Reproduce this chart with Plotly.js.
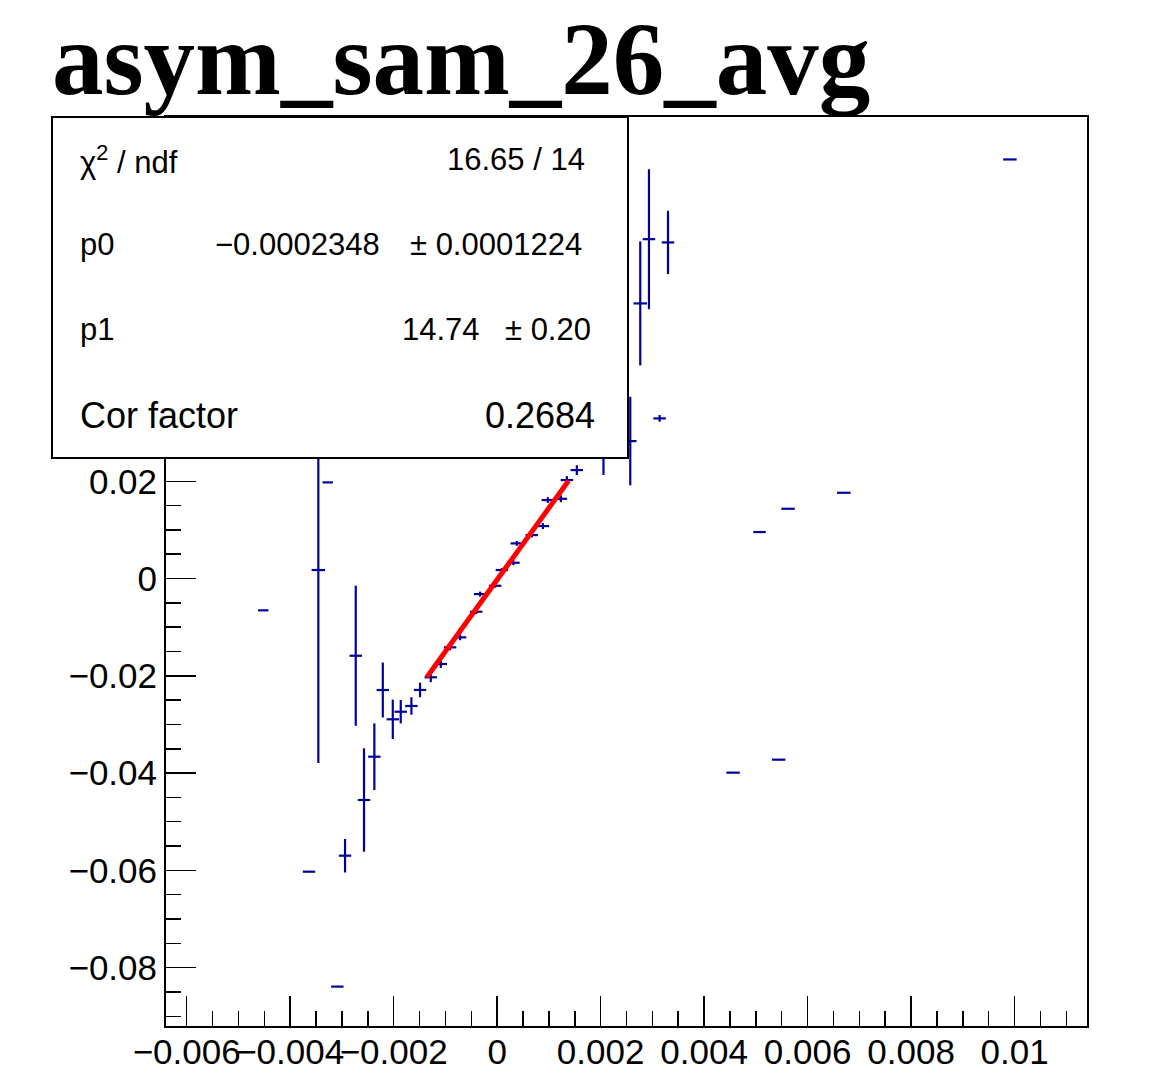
<!DOCTYPE html>
<html>
<head>
<meta charset="utf-8">
<script src="https://cdn.plot.ly/plotly-3.0.1.min.js"></script>
<style>html,body{margin:0;padding:0;background:#fff;}#chart{width:1175px;height:1083px;}</style>
</head>
<body>
<div id="chart"></div>
<script>
// ---- data ----
const xVals = [-0.00452, -0.003636, -0.003456, -0.003275, -0.003089, -0.00294, -0.002733, -0.002573,
  -0.002373, -0.00221, -0.002017, -0.001863, -0.001657, -0.00149, -0.001283, -0.001089,
  -0.000909, -0.000716, -0.000406, -0.000329, -0.0000387, 0.000091, 0.000315, 0.00038,
  0.00067, 0.000884, 0.00098, 0.001232, 0.001348, 0.00154, 0.002055, 0.002573,
  0.002766, 0.002934, 0.00314, 0.003302, 0.004559, 0.005071, 0.005441, 0.005623,
  0.0067, 0.00991];
const yVals = [-0.00654, -0.06027, 0.00175, 0.01977, -0.0839, -0.05698, -0.01587, -0.04553,
  -0.03663, -0.02292, -0.02894, -0.02738, -0.0262, -0.0229, -0.0203, -0.01757,
  -0.01414, -0.01209, -0.00682, -0.00319, -0.00148, 0.00175, 0.00325, 0.00723,
  0.00894, 0.01079, 0.01614, 0.0164, 0.02025, 0.0223, 0.0248, 0.02826,
  0.05657, 0.06978, 0.03293, 0.06911, -0.03991, 0.00956, -0.03724, 0.01435,
  0.01764, 0.08617];
const yErrs = [0, 0, 0.0397, 0, 0, 0.00345, 0.0144, 0.01063,
  0.00685, 0.00565, 0.00405, 0.0024, 0.0018, 0.0015, 0.001, 0.0008,
  0.0006, 0.0006, 0.0005, 0.0005, 0.0004, 0.0004, 0.0005, 0.0005,
  0.0005, 0.0006, 0.0006, 0.0007, 0.0008, 0.001, 0.0035, 0.0091,
  0.01275, 0.01439, 0.0007, 0.0065, 0, 0, 0, 0,
  0, 0];
const xErrs = [0.0001, 0.00012, 0.00013, 0.0001, 0.00012, 0.00012, 0.00012, 0.00012,
  0.00012, 0.00012, 0.00012, 0.00012, 0.00012, 0.00012, 0.00012, 0.00012,
  0.00012, 0.00012, 0.00012, 0.00012, 0.00012, 0.00012, 0.00012, 0.00012,
  0.00012, 0.00012, 0.00012, 0.00012, 0.00012, 0.00012, 0.00012, 0.00012,
  0.00013, 0.00012, 0.00012, 0.00012, 0.00013, 0.00012, 0.00013, 0.00013,
  0.00013, 0.00013];

// fit result
const fitP0 = -0.0002348;
const fitP1 = 14.74;
const fitRange = [-0.00136, 0.00138];

// axis ticks (labels above 0.02 sit under the stats box in the reference)
const xTickVals = [-0.006, -0.004, -0.002, 0, 0.002, 0.004, 0.006, 0.008, 0.01];
const yTickVals = [-0.08, -0.06, -0.04, -0.02, 0, 0.02];

// stats box text
const statLabels = ["\u03c7<sup>2</sup> / ndf", "p0", "p1", "Cor factor"];
const statValues = ["16.65 / 14", "\u22120.0002348", "14.74", "0.2684"];
const statErrors = ["", "\u00b1 0.0001224", "\u00b1 0.20", ""];

const titleText = "asym_sam_26_avg";

// ---- drawing ----
const W = 1175, H = 1083;
const L = 166, R = 1087, T = 117, B = 1026;
const px = x => (x - L) / (R - L);
const py = y => (B - y) / (B - T);

const navy = "#00009a";

const dataTrace = {
  type: "scatter", mode: "markers",
  x: xVals, y: yVals,
  marker: {size: 1, color: navy},
  error_y: {type: "data", array: yErrs, visible: true, color: navy, thickness: 2.2, width: 0},
  error_x: {type: "data", array: xErrs, visible: true, color: navy, thickness: 2.2, width: 0},
  hoverinfo: "skip", showlegend: false
};
const fitX = fitRange.slice();
const fitY = fitX.map(x => fitP0 + fitP1 * x);
const fitTrace = {
  type: "scatter", mode: "lines", x: fitX, y: fitY,
  line: {color: "#ff0000", width: 5}, hoverinfo: "skip", showlegend: false
};

const sansFont = "Liberation Sans, Arial, Helvetica, sans-serif";
const rowY = [160, 245, 330, 415];
const rowSize = [31, 31, 31, 36];
const annotations = [];
statLabels.forEach((t, i) => {
  annotations.push({xref: "paper", yref: "paper", x: px(78), y: py(rowY[i]), xanchor: "left", yanchor: "middle",
    text: t, showarrow: false, font: {family: sansFont, size: rowSize[i], color: "#000"}});
});
const valRight = [587, 382, 482, 597];
statValues.forEach((t, i) => {
  annotations.push({xref: "paper", yref: "paper", x: px(valRight[i]), y: py(rowY[i]), xanchor: "right", yanchor: "middle",
    text: t, showarrow: false, font: {family: sansFont, size: rowSize[i], color: "#000"}});
});
const errRight = [0, 584, 593, 0];
statErrors.forEach((t, i) => {
  if (!t) return;
  annotations.push({xref: "paper", yref: "paper", x: px(errRight[i]), y: py(rowY[i]), xanchor: "right", yanchor: "middle",
    text: t, showarrow: false, font: {family: sansFont, size: rowSize[i], color: "#000"}});
});

const axisCommon = {
  showgrid: false, zeroline: false, showline: true, linecolor: "#000", linewidth: 2, mirror: true,
  ticks: "inside", ticklen: 30, tickwidth: 1.5, tickcolor: "#000",
  tickfont: {family: sansFont, size: 35, color: "#000"},
  tickangle: 0, tickmode: "array"
};

const layout = {
  width: W, height: H,
  margin: {l: L, r: W - R, t: T, b: H - B},
  paper_bgcolor: "#fff", plot_bgcolor: "#fff",
  title: {text: "<b>" + titleText + "</b>", x: 52 / W, xanchor: "left", xref: "container",
    y: 1 - 58 / H, yanchor: "middle", yref: "container",
    font: {family: "Liberation Serif, Times New Roman, serif", size: 103, color: "#000"}},
  xaxis: Object.assign({}, axisCommon, {
    range: [-0.0064, 0.0114], tickvals: xTickVals, ticklabelstandoff: -6,
    minor: {ticks: "inside", ticklen: 15, tickwidth: 1.5, tickcolor: "#000", tickmode: "linear", dtick: 0.0005, tick0: 0, showgrid: false}
  }),
  yaxis: Object.assign({}, axisCommon, {
    range: [-0.0920, 0.0949], tickvals: yTickVals,
    minor: {ticks: "inside", ticklen: 15, tickwidth: 1.5, tickcolor: "#000", tickmode: "linear", dtick: 0.005, tick0: 0, showgrid: false}
  }),
  shapes: [{type: "rect", xref: "paper", yref: "paper", x0: px(52), x1: px(628), y0: py(458), y1: py(117),
    line: {color: "#000", width: 2}, fillcolor: "#fff", layer: "above"}],
  annotations: annotations,
  showlegend: false
};

Plotly.newPlot("chart", [dataTrace, fitTrace], layout, {displayModeBar: false, staticPlot: true});
</script>
</body>
</html>
